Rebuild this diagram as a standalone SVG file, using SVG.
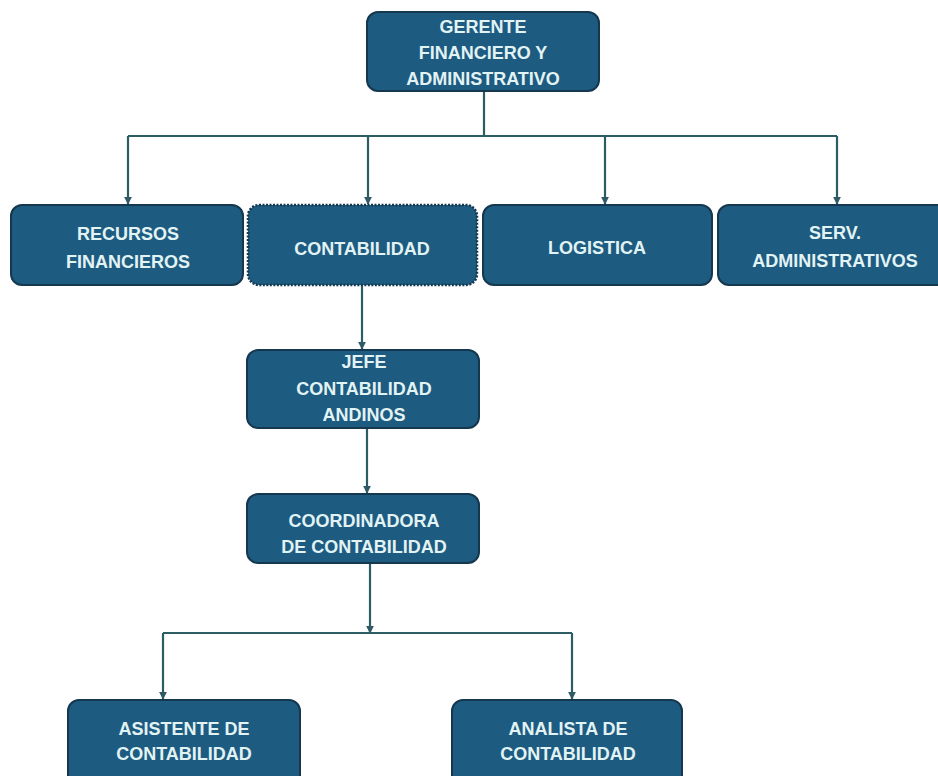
<svg xmlns="http://www.w3.org/2000/svg" width="938" height="776" viewBox="0 0 938 776">
<style>
.box{fill:#1d5b81;stroke:#15384f;stroke-width:2}
.dot{fill:#1d5b81;stroke:#15384f;stroke-width:2.5;stroke-dasharray:2 1.5}
.t{font-family:"Liberation Sans",Arial,sans-serif;font-weight:bold;font-size:18px;fill:#e2f3f4;text-anchor:middle}
.c{fill:none;stroke:#2c5d63;stroke-width:2.2}
</style>
<defs>
<marker id="ah" viewBox="0 0 10 10" refX="9" refY="5" markerWidth="8" markerHeight="8" markerUnits="userSpaceOnUse" orient="auto">
<path d="M0,0 L10,5 L0,10 z" fill="#2f5a66"/>
</marker>
</defs>
<rect width="938" height="776" fill="#ffffff"/>
<g id="connectors">
<path class="c" d="M484,91 V136"/>
<path class="c" d="M128,136 H837"/>
<path class="c" d="M128,136 V204" marker-end="url(#ah)"/>
<path class="c" d="M368,136 V204" marker-end="url(#ah)"/>
<path class="c" d="M605,136 V204" marker-end="url(#ah)"/>
<path class="c" d="M837,136 V204" marker-end="url(#ah)"/>
<path class="c" d="M362,285 V349" marker-end="url(#ah)"/>
<path class="c" d="M367,428 V493" marker-end="url(#ah)"/>
<path class="c" d="M370,563 V633" marker-end="url(#ah)"/>
<path class="c" d="M163,633 H572"/>
<path class="c" d="M163,633 V699" marker-end="url(#ah)"/>
<path class="c" d="M572,633 V699" marker-end="url(#ah)"/>
</g>
<g id="gerente">
<rect class="box" x="367" y="12" width="232" height="79" rx="11"/>
<text class="t" x="483" y="33">GERENTE</text>
<text class="t" x="483" y="59">FINANCIERO Y</text>
<text class="t" x="483" y="85">ADMINISTRATIVO</text>
</g>
<g id="recursos">
<rect class="box" x="11" y="205" width="232" height="80" rx="11"/>
<text class="t" x="128" y="240">RECURSOS</text>
<text class="t" x="128" y="268">FINANCIEROS</text>
</g>
<g id="contabilidad">
<rect class="dot" x="248" y="205" width="229" height="80" rx="11"/>
<text class="t" x="362" y="255">CONTABILIDAD</text>
</g>
<g id="logistica">
<rect class="box" x="483" y="205" width="229" height="80" rx="11"/>
<text class="t" x="597" y="254">LOGISTICA</text>
</g>
<g id="serv">
<rect class="box" x="718" y="205" width="234" height="80" rx="11"/>
<text class="t" x="835" y="239">SERV.</text>
<text class="t" x="835" y="267">ADMINISTRATIVOS</text>
</g>
<g id="jefe">
<rect class="box" x="247" y="350" width="232" height="78" rx="11"/>
<text class="t" x="364" y="368">JEFE</text>
<text class="t" x="364" y="395">CONTABILIDAD</text>
<text class="t" x="364" y="421">ANDINOS</text>
</g>
<g id="coordinadora">
<rect class="box" x="247" y="494" width="232" height="69" rx="11"/>
<text class="t" x="364" y="527">COORDINADORA</text>
<text class="t" x="364" y="553">DE CONTABILIDAD</text>
</g>
<g id="asistente">
<rect class="box" x="68" y="700" width="232" height="90" rx="11"/>
<text class="t" x="184" y="735">ASISTENTE DE</text>
<text class="t" x="184" y="760">CONTABILIDAD</text>
</g>
<g id="analista">
<rect class="box" x="452" y="700" width="230" height="90" rx="11"/>
<text class="t" x="568" y="735">ANALISTA DE</text>
<text class="t" x="568" y="760">CONTABILIDAD</text>
</g>
</svg>
